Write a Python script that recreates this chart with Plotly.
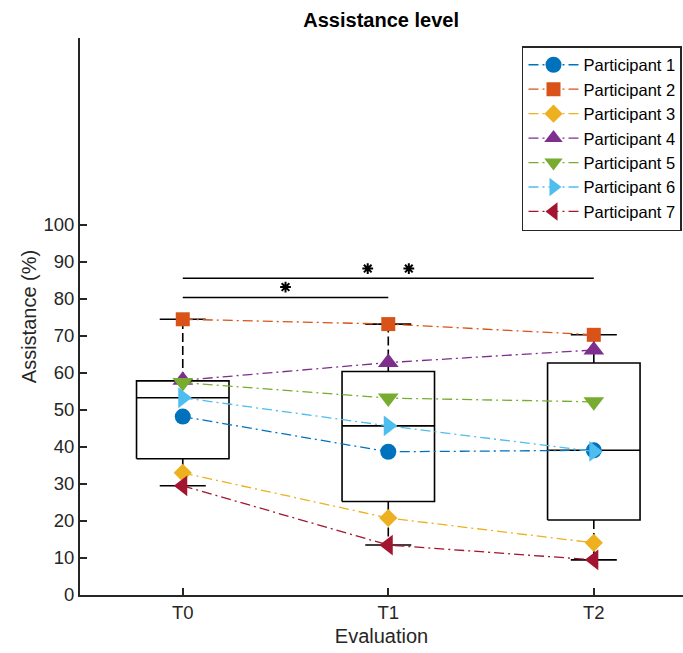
import numpy as np
import plotly.graph_objects as go

# ---------------- data ----------------
evaluations = ["T0", "T1", "T2"]
eval_pos = [1, 2, 3]
participants = ["Participant 1", "Participant 2", "Participant 3", "Participant 4",
                "Participant 5", "Participant 6", "Participant 7"]
p1 = [48.2, 38.7, 39.1]
p2 = [74.5, 73.2, 70.3]
p3 = [33.0, 20.8, 14.1]
p4 = [58.0, 62.8, 66.2]
p5 = [57.4, 53.2, 52.2]
p6 = [53.3, 45.7, 38.8]
p7 = [29.5, 13.5, 9.5]
series = [p1, p2, p3, p4, p5, p6, p7]

colors = ["#0072BD", "#D95319", "#EDB120", "#7E2F8E", "#77AC30", "#4DBEEE", "#A2142F"]
symbols = ["circle", "square", "diamond", "triangle-up", "triangle-down",
           "triangle-right", "triangle-left"]
msizes = [16, 14, 14, 18, 18, 18, 18]

# significance brackets: (from, to, height, star x positions, star height)
sig_from = [1, 1]
sig_to = [3, 2]
sig_y = [85.6, 80.4]
star_x = [[1.9, 2.1], [1.5]]
star_y = [88.2, 83.2]

y_ticks = list(range(0, 101, 10))

BOX_HW = 0.225
CAP_HW = 0.112
AX = "#262626"
FONT = "Liberation Sans, Arial, Helvetica, sans-serif"


def matlab_prctile(vals, q):
    x = np.sort(np.asarray(vals, float))
    n = len(x)
    p = 100.0 * (np.arange(1, n + 1) - 0.5) / n
    return float(np.interp(q, p, x))


fig = go.Figure()

# ---------------- box plots ----------------
for k, xpos in enumerate(eval_pos):
    vals = np.array([s[k] for s in series])
    q1 = matlab_prctile(vals, 25)
    med = matlab_prctile(vals, 50)
    q3 = matlab_prctile(vals, 75)
    iqr = q3 - q1
    hi = vals[vals <= q3 + 1.5 * iqr].max()
    lo = vals[vals >= q1 - 1.5 * iqr].min()
    # box
    fig.add_trace(go.Scatter(
        x=[xpos - BOX_HW, xpos + BOX_HW, xpos + BOX_HW, xpos - BOX_HW, xpos - BOX_HW],
        y=[q1, q1, q3, q3, q1], mode="lines",
        line=dict(color="black", width=1.6), showlegend=False, hoverinfo="skip"))
    # median
    fig.add_trace(go.Scatter(
        x=[xpos - BOX_HW, xpos + BOX_HW], y=[med, med], mode="lines",
        line=dict(color="black", width=1.6), showlegend=False, hoverinfo="skip"))
    # whiskers (dashed)
    for a, b in ((q3, hi), (q1, lo)):
        fig.add_trace(go.Scatter(
            x=[xpos, xpos], y=[a, b], mode="lines",
            line=dict(color="black", width=1.6, dash="9px,4px"),
            showlegend=False, hoverinfo="skip"))
    # caps
    for v in (hi, lo):
        fig.add_trace(go.Scatter(
            x=[xpos - CAP_HW, xpos + CAP_HW], y=[v, v], mode="lines",
            line=dict(color="black", width=1.6), showlegend=False, hoverinfo="skip"))

# ---------------- participants ----------------
for i, (name, s) in enumerate(zip(participants, series)):
    fig.add_trace(go.Scatter(
        x=eval_pos, y=s, mode="lines+markers", name=name,
        line=dict(color=colors[i], width=1.3, dash="10px,4px,2px,4px"),
        marker=dict(symbol=symbols[i], size=msizes[i], color=colors[i],
                    line=dict(width=0))))

# ---------------- significance ----------------
for a, b, h, sx, sy in zip(sig_from, sig_to, sig_y, star_x, star_y):
    fig.add_trace(go.Scatter(
        x=[a, b], y=[h, h], mode="lines", line=dict(color="black", width=1.6),
        showlegend=False, hoverinfo="skip"))
    fig.add_trace(go.Scatter(
        x=sx, y=[sy] * len(sx), mode="markers",
        marker=dict(symbol="asterisk-open", size=9, color="black",
                    line=dict(color="black", width=2)),
        showlegend=False, hoverinfo="skip"))

fig.update_layout(
    width=683, height=653,
    margin=dict(l=80, r=0, t=38, b=58, autoexpand=False),
    plot_bgcolor="white", paper_bgcolor="white",
    font=dict(family=FONT, color=AX, size=18.5),
    title=dict(text="<b>Assistance level</b>", x=0.558, xanchor="center",
               y=1 - 20 / 653, yanchor="middle", yref="container",
               font=dict(size=20, color="black", family=FONT)),
    showlegend=True,
    legend=dict(x=0.733, xanchor="left", y=0.9856, yanchor="top",
                bgcolor="white", bordercolor=AX, borderwidth=1.5,
                font=dict(size=16.5, color="black", family=FONT),
                tracegroupgap=0, itemwidth=50),
    xaxis=dict(range=[0.5, 3.434], tickvals=eval_pos, ticktext=evaluations,
               ticks="inside", ticklen=7, tickwidth=1.5, tickcolor=AX,
               showline=True, linecolor=AX, linewidth=1.8, showgrid=False,
               zeroline=False, mirror=False, automargin=False,
               title=dict(text="Evaluation", standoff=7,
                          font=dict(size=20, color=AX))),
    yaxis=dict(range=[0, 150.5], tickvals=y_ticks,
               ticks="inside", ticklen=7, tickwidth=1.5, tickcolor=AX,
               showline=True, linecolor=AX, linewidth=1.8, showgrid=False,
               zeroline=False, mirror=False, automargin=False,
               title=dict(text="Assistance (%)", standoff=2,
                          font=dict(size=20, color=AX))),
)

fig.write_html("out.html", config={"displayModeBar": False},
               post_script="document.body.style.margin='0';")
